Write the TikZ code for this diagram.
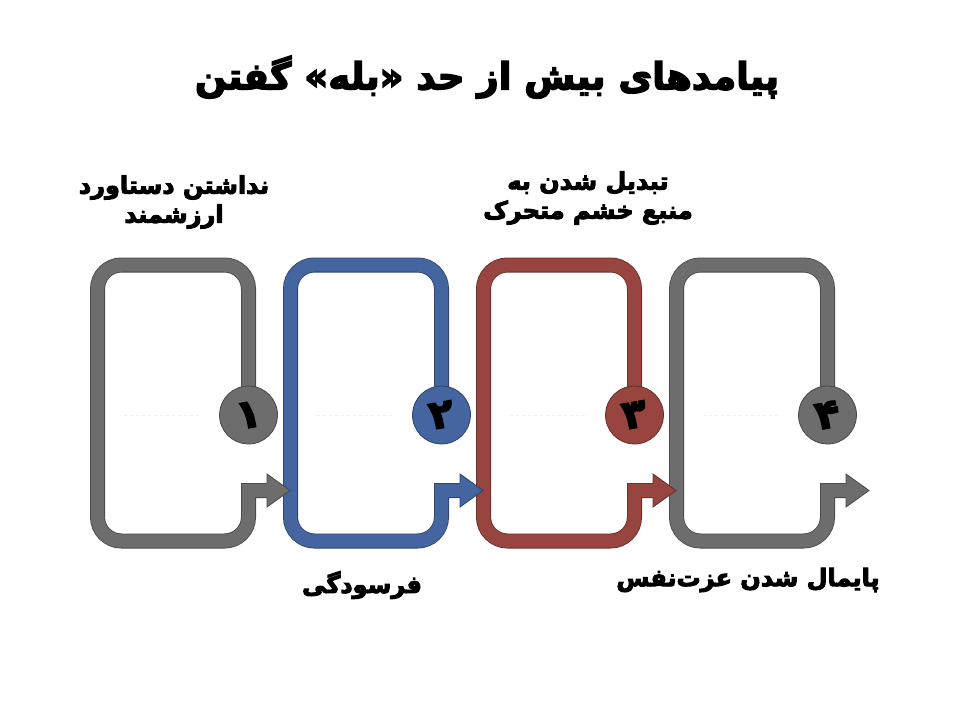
\documentclass[tikz,border=0pt]{standalone}
\usepackage{fontspec}
\newfontfamily\farsi[Script=Arabic, FakeBold=4]{DejaVu Sans Bold}
\TeXXeTstate=1
\usetikzlibrary{backgrounds}

\definecolor{stepgray}{RGB}{109,109,109}
\definecolor{stepblue}{RGB}{68,101,160}
\definecolor{stepred}{RGB}{152,69,64}

\tikzset{
  flowline/.style={draw=#1!65!black, double=#1, double distance=13.4pt, line width=0.8pt, rounded corners=24pt},
  numdisc/.style={shape=circle, draw=#1!65!black, fill=#1, line width=0.8pt, minimum size=58pt, inner sep=0pt,
    font=\farsi\fontsize{40}{40}\selectfont, rotate=10},
  headfill/.style={fill=#1, draw=#1!65!black, line width=0.8pt, line join=miter},
  outcome/.style={font=\farsi\fontsize{24}{29}\selectfont, align=center},
  placeholder/.style={draw=black!6, dashed, line width=0.8pt}
}

\begin{document}
\begin{tikzpicture}[x=1pt, y=-1pt]
\useasboundingbox (0,0) rectangle (960,720);

\node (title) at (487,77) [font=\farsi\fontsize{37}{37}\selectfont] {\beginR پیامدهای بیش از حد «بله» گفتن\endR};

\node (1) at (248.5,415) [numdisc=stepgray] {۱};
\node (2) at (441.5,415) [numdisc=stepblue] {۲};
\node (3) at (634.5,415) [numdisc=stepred] {۳};
\node (4) at (827.5,415) [numdisc=stepgray] {۴};

\coordinate (tip1) at (290,490.5);
\coordinate (tip2) at (483,490.5);
\coordinate (tip3) at (676,490.5);
\coordinate (tip4) at (869,490.5);

\begin{scope}[on background layer]
\draw [flowline=stepgray] (1.center) -- (248.5,265) -- (97.5,265) -- (97.5,541) -- (248.5,541) [sharp corners] -- (248.5,490.5) -- (268,490.5);
\draw [flowline=stepblue] (2.center) -- (441.5,265) -- (290.5,265) -- (290.5,541) -- (441.5,541) [sharp corners] -- (441.5,490.5) -- (461,490.5);
\draw [flowline=stepred] (3.center) -- (634.5,265) -- (483.5,265) -- (483.5,541) -- (634.5,541) [sharp corners] -- (634.5,490.5) -- (654,490.5);
\draw [flowline=stepgray] (4.center) -- (827.5,265) -- (676.5,265) -- (676.5,541) -- (827.5,541) [sharp corners] -- (827.5,490.5) -- (847,490.5);
\end{scope}

\filldraw [headfill=stepgray] (267,483) -- (267,474) -- (tip1) -- (267,507) -- (267,498);
\filldraw [headfill=stepblue] (460,483) -- (460,474) -- (tip2) -- (460,507) -- (460,498);
\filldraw [headfill=stepred] (653,483) -- (653,474) -- (tip3) -- (653,507) -- (653,498);
\filldraw [headfill=stepgray] (846,483) -- (846,474) -- (tip4) -- (846,507) -- (846,498);

\draw [placeholder] (124,415) -- (202,415);
\draw [placeholder] (317,415) -- (395,415);
\draw [placeholder] (510,415) -- (588,415);
\draw [placeholder] (703,415) -- (781,415);

\node (out1) at (174,202) [outcome] {\beginR نداشتن دستاورد\endR\\\beginR ارزشمند\endR};
\node (out2) at (362,585) [outcome] {\beginR فرسودگی\endR};
\node (out3) at (588,198) [outcome] {\beginR تبدیل شدن به\endR\\\beginR منبع خشم متحرک\endR};
\node (out4) at (748,580) [outcome] {\beginR پایمال شدن عزت‌نفس\endR};

\end{tikzpicture}
\end{document}
